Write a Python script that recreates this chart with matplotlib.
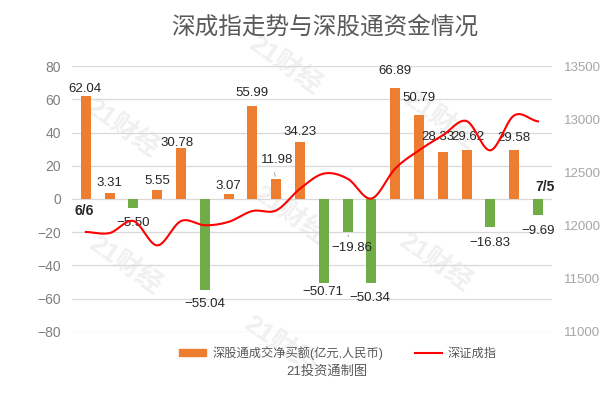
import numpy as np
import matplotlib
matplotlib.use("Agg")
import matplotlib.pyplot as plt
from matplotlib.patches import Patch
from matplotlib.lines import Line2D

plt.rcParams['font.family'] = ['Liberation Sans', 'Noto Sans CJK SC', 'DejaVu Sans']
plt.rcParams['axes.unicode_minus'] = True

dates = ["6/6", "6/7", "6/8", "6/9", "6/10", "6/13", "6/14", "6/15", "6/16", "6/17",
         "6/20", "6/21", "6/22", "6/23", "6/24", "6/27", "6/28", "6/29", "6/30", "7/5"]
flows = [62.04, 3.31, -5.50, 5.55, 30.78, -55.04, 3.07, 55.99, 11.98, 34.23,
         -50.71, -19.86, -50.34, 66.89, 50.79, 28.33, 29.62, -16.83, 29.58, -9.69]
szci = [11940, 11930, 12043, 11814, 12043, 12003, 12035, 12137, 12143, 12347,
        12489, 12441, 12254, 12536, 12708, 12849, 12983, 12708, 13036, 12980]
first_label = "6/6"
last_label = "7/5"
title = "深成指走势与深股通资金情况"
bar_name = "深股通成交净买额(亿元,人民币)"
line_name = "深证成指"
source = "21投资通制图"
watermark = "21财经"
left_ticks = [-80, -60, -40, -20, 0, 20, 40, 60, 80]
right_ticks = [11000, 11500, 12000, 12500, 13000, 13500]

ORANGE = "#ED7D31"
GREEN = "#70AD47"
RED = "#FF0000"

fig = plt.figure(figsize=(6.11, 3.98), dpi=100)

# watermarks (behind everything)
for (wx, wy) in [(0.466, 0.837), (0.20, 0.678), (0.72, 0.698), (0.475, 0.46),
                 (0.205, 0.334), (0.712, 0.342), (0.458, 0.133)]:
    fig.text(wx, wy, watermark, fontsize=19, color="#F0F0F0", rotation=-35,
             ha='center', va='center', fontweight='bold', zorder=-5)

ax = fig.add_axes([0.118, 0.166, 0.785, 0.668])
ax2 = ax.twinx()
ax.patch.set_visible(False)
ax2.patch.set_visible(False)

x = np.arange(len(flows))
colors = [ORANGE if v >= 0 else GREEN for v in flows]
ax.bar(x, flows, width=0.42, color=colors, zorder=2)
ax.set_xlim(-0.58, len(flows) - 0.42)
ax.set_ylim(-80, 80)
ax.set_yticks(left_ticks)
ax.yaxis.grid(True, color="#D9D9D9", linewidth=0.9, zorder=0)
ax.set_axisbelow(True)
ax.set_xticks([])
for s in ax.spines.values():
    s.set_visible(False)
for s in ax2.spines.values():
    s.set_visible(False)
ax.tick_params(axis='y', length=0, labelsize=10, labelcolor="#7F7F7F", pad=8)

# smooth line (Excel-like smoothing through the points)
def smooth(xs, ys, n=30):
    xs = np.asarray(xs, float); ys = np.asarray(ys, float)
    px = np.concatenate([[2*xs[0]-xs[1]], xs, [2*xs[-1]-xs[-2]]])
    py = np.concatenate([[ys[0]], ys, [ys[-1]]])
    ox, oy = [], []
    for i in range(1, len(px) - 2):
        p0x, p1x, p2x, p3x = px[i-1], px[i], px[i+1], px[i+2]
        p0y, p1y, p2y, p3y = py[i-1], py[i], py[i+1], py[i+2]
        c1x = p1x + (p2x - p0x) / 6; c1y = p1y + (p2y - p0y) / 6
        c2x = p2x - (p3x - p1x) / 6; c2y = p2y - (p3y - p1y) / 6
        t = np.linspace(0, 1, n)
        bx = (1-t)**3*p1x + 3*(1-t)**2*t*c1x + 3*(1-t)*t**2*c2x + t**3*p2x
        by = (1-t)**3*p1y + 3*(1-t)**2*t*c1y + 3*(1-t)*t**2*c2y + t**3*p2y
        ox.extend(bx); oy.extend(by)
    return np.array(ox), np.array(oy)

sx, sy = smooth(x, szci)
ax2.plot(sx, sy, color=RED, linewidth=1.5, zorder=3)
ax2.set_ylim(11000, 13500)
ax2.set_yticks(right_ticks)
ax2.tick_params(axis='y', length=0, labelsize=9.5, labelcolor="#A6A6A6", pad=9)

# data labels: per-bar (dx px, gap px) tweaks
gaps = {0: (-1, 1), 1: (0, 4), 2: (0, 9), 3: (0, 3), 4: (-4, -1), 5: (0, 8), 6: (0, 2),
        7: (0, 7), 8: (1, 13), 9: (0, 4), 10: (-1, 3), 11: (4, 10), 12: (-2, 9),
        13: (0, 11), 14: (0, 11), 15: (-5, 9), 16: (1, 7), 17: (0, 10), 18: (0, 6),
        19: (0, 10)}
px2pt = 0.72
for i, v in enumerate(flows):
    dx, gap = gaps[i]
    if v >= 0:
        dy, va = gap * px2pt, 'bottom'
    else:
        dy, va = -gap * px2pt, 'top'
    ax.annotate(f"{v:.2f}".replace("-", "\u2212"), (x[i], v), xytext=(dx * px2pt, dy),
                textcoords='offset points', ha='center', va=va, fontsize=9.5,
                color="#262626", zorder=5)
ax.annotate("", (x[8], flows[8]), xytext=(x[8] - 0.12, flows[8] + 5.5),
            arrowprops=dict(arrowstyle='-', color="#A6A6A6", lw=0.7))
ax.annotate("", (x[11], flows[11]), xytext=(x[11] + 0.05, flows[11] - 4.5),
            arrowprops=dict(arrowstyle='-', color="#A6A6A6", lw=0.7))
ax.annotate(first_label, (x[0], 0), xytext=(-2 * px2pt, -5 * px2pt), textcoords='offset points',
            ha='center', va='top', fontsize=10, fontweight='bold', color="#262626")
ax.annotate(last_label, (x[-1], 0), xytext=(7 * px2pt, 5 * px2pt), textcoords='offset points',
            ha='center', va='bottom', fontsize=10, fontweight='bold', color="#262626")

fig.text(0.532, 0.932, title, fontsize=17, color="#595959", ha='center', va='center')

handles = [Patch(color=ORANGE), Line2D([], [], color=RED, lw=1.5)]
fig.legend(handles, [bar_name, line_name], loc='center', bbox_to_anchor=(0.553, 0.113),
           ncol=2, frameon=False, fontsize=8.8, handlelength=2.2, handleheight=0.5,
           handletextpad=0.5, columnspacing=2.6, labelcolor="#595959")
fig.text(0.535, 0.066, source, fontsize=9.5, color="#595959", ha='center', va='center')

fig.savefig("out.png", dpi=100)
